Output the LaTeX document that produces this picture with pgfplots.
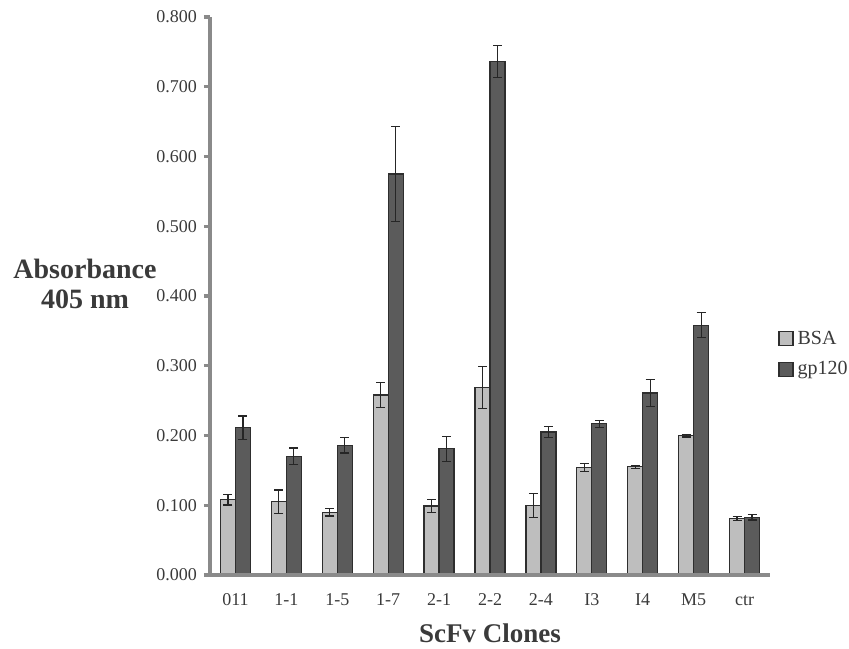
\documentclass[border=0pt]{standalone}
\usepackage{fontspec}
\setmainfont{Liberation Serif}
\usepackage{pgfplots}
\usepackage{pgfplotstable}
\pgfplotsset{compat=1.18}
\definecolor{bsa}{HTML}{BEBEBE}
\definecolor{gp}{HTML}{5B5B5B}
\definecolor{axisgray}{HTML}{8A8A8A}
\definecolor{txt}{HTML}{3A3A3A}
\definecolor{edge}{HTML}{2E2E2E}

\pgfplotstableread{
x bsa bsaerr gp gperr
0 0.108 0.0075 0.211 0.017
1 0.105 0.017 0.170 0.012
2 0.090 0.0055 0.186 0.011
3 0.258 0.018 0.575 0.068
4 0.099 0.009 0.181 0.018
5 0.269 0.030 0.736 0.023
6 0.100 0.017 0.205 0.008
7 0.154 0.006 0.217 0.005
8 0.155 0.002 0.261 0.019
9 0.200 0.002 0.358 0.018
10 0.081 0.003 0.083 0.004
}\data

\begin{document}
\begin{tikzpicture}
\useasboundingbox (-105pt,-36.5pt) rectangle (319.5pt,287.5pt);
\begin{axis}[
  scale only axis, width=280pt, height=279pt,
  xmin=-0.5, xmax=10.5, ymin=0, ymax=0.8,
  axis lines*=left,
  axis on top,
  axis line style={axisgray, line width=1.8pt},
  ybar=0pt, bar width=7.5pt,
  xtick={0,...,10},
  xticklabels={011,1-1,1-5,1-7,2-1,2-2,2-4,I3,I4,M5,ctr},
  x tick style={draw=none},
  minor xtick={-0.5,0.5,...,10.5},
  minor x tick style={axisgray, line width=1.2pt},
  minor tick length=2pt,
  ytick={0,0.1,...,0.8},
  y tick style={axisgray, line width=1.6pt},
  major tick length=3pt,
  tick align=outside,
  /pgf/number format/assume math mode=true,
  yticklabel style={/pgf/number format/.cd, fixed, fixed zerofill, precision=3, /tikz/.cd, font=\fontsize{9}{11}\selectfont, text=txt},
  xticklabel style={font=\fontsize{9}{11}\selectfont, text=txt, anchor=base, yshift=-12pt},
  xlabel={ScFv Clones},
  xlabel style={font=\fontsize{13.5}{16}\selectfont\bfseries, text=txt, at={(rel axis cs:0.5,0)}, anchor=base, yshift=-33.5pt},
  legend style={at={(1,0.396)}, anchor=west, xshift=4pt, draw=none, fill=none, font=\fontsize{10}{12}\selectfont, text=txt, row sep=3pt, inner sep=0pt},
  legend cell align=left,
  legend image code/.code={\draw[#1] (0pt,-3.5pt) rectangle (7pt,3.5pt);},
  clip=false,
]
\addplot[fill=bsa, draw=edge, line width=0.6pt,
  error bars/.cd, y dir=both, y explicit,
  error bar style={line width=0.6pt, color=black!85},
  error mark options={rotate=90, mark size=2.25pt, line width=0.6pt, color=black!85}]
  table[x=x, y=bsa, y error=bsaerr] {\data};
\addplot[fill=gp, draw=edge, line width=0.6pt,
  error bars/.cd, y dir=both, y explicit,
  error bar style={line width=0.6pt, color=black!85},
  error mark options={rotate=90, mark size=2.25pt, line width=0.6pt, color=black!85}]
  table[x=x, y=gp, y error=gperr] {\data};
\legend{BSA, gp120}
\node[align=center, font=\fontsize{14}{15}\selectfont\bfseries, text=txt] at (rel axis cs:0,0.521) [xshift=-62.5pt] {Absorbance\\405 nm};
\end{axis}
\end{tikzpicture}
\end{document}
